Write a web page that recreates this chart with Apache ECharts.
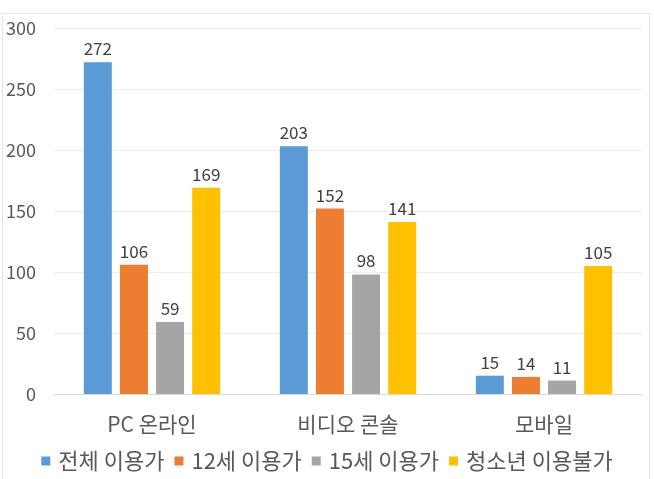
<!DOCTYPE html>
<html>
<head>
<meta charset="utf-8">
<script src="https://cdn.jsdelivr.net/npm/echarts@6/dist/echarts.min.js"></script>
<style>
  html, body { margin: 0; padding: 0; background: #fff; }
  #frame { position: absolute; left: 2px; top: 13px; width: 648px; height: 470px; border: 1px solid #e6e6e6; box-sizing: border-box; }
  #chart { position: absolute; left: 0; top: 0; width: 654px; height: 479px; }
</style>
</head>
<body>
<div id="frame"></div>
<div id="chart"></div>
<script>
const categories = ["PC 온라인", "비디오 콘솔", "모바일"];
const seriesNames = ["전체 이용가", "12세 이용가", "15세 이용가", "청소년 이용불가"];
const allAges = [272, 203, 15];
const age12 = [106, 152, 14];
const age15 = [59, 98, 11];
const adult = [169, 141, 105];
const colors = ["#5b9bd5", "#ed7d31", "#a5a5a5", "#ffc000"];

const font = "'Noto Sans CJK KR', 'Noto Sans', sans-serif";
const myChart = echarts.init(document.getElementById("chart"));

const values = [allAges, age12, age15, adult];
const series = values.map(function (data, i) {
  return {
    name: seriesNames[i],
    type: "bar",
    data: data,
    barWidth: 28,
    barGap: "29%",
    itemStyle: { color: colors[i] },
    label: {
      show: true,
      position: "top",
      distance: 5,
      color: "#404040",
      fontSize: 17,
      fontFamily: font,
    },
  };
});

myChart.setOption({
  animation: false,
  textStyle: { fontFamily: font },
  grid: { left: 54, right: 12, top: 28, bottom: 85 },
  legend: {
    bottom: 2,
    left: "center",
    icon: "rect",
    itemWidth: 9,
    itemHeight: 9,
    itemGap: 10,
    textStyle: { color: "#595959", fontSize: 22, fontFamily: font, padding: [0, 0, 0, 3] },
    data: seriesNames,
  },
  xAxis: {
    type: "category",
    data: categories,
    axisLine: { lineStyle: { color: "#d9d9d9" } },
    axisTick: { show: false },
    axisLabel: { color: "#595959", fontSize: 21, margin: 20, fontFamily: font },
  },
  yAxis: {
    type: "value",
    min: 0,
    max: 300,
    interval: 50,
    axisLine: { show: false },
    axisTick: { show: false },
    splitLine: { lineStyle: { color: "#ececec" } },
    axisLabel: { color: "#595959", fontSize: 18, margin: 18, fontFamily: font },
  },
  series: series,
});
</script>
</body>
</html>
